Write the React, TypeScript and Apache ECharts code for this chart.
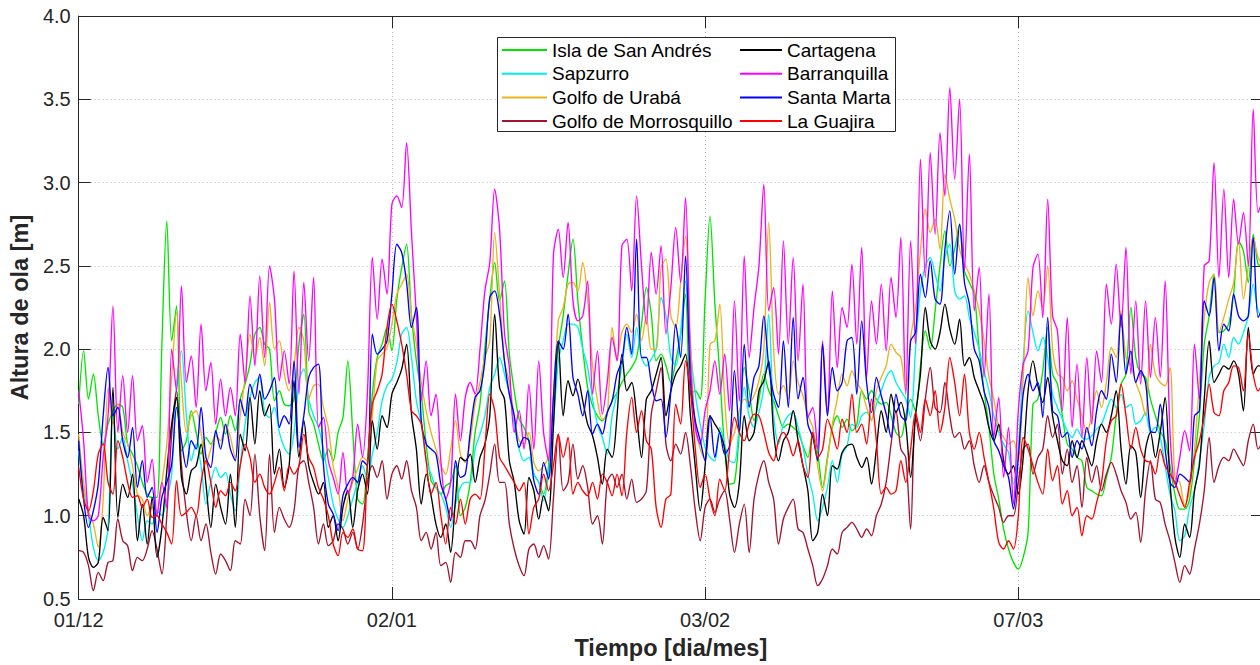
import React, { useEffect, useRef } from "react";
import * as echarts from "echarts";

// Significant wave height, one value every 12 hours starting 01/12 00:00
const STEP_DAYS = 0.5;

const xTickDays = [0, 32, 64, 96];
const xTickLabels = ["01/12", "02/01", "03/02", "07/03"];

const islaSanAndres = [
  1.67,1.99,1.7,1.85,1.6,1.43,1.55,1.63,1.67,1.65, 1.43,1.37,1.3,1.2,1.13,1.11,1.11,2.03,2.77,2.05,
  2.26,1.39,1.45,1.63,1.5,1.37,1.47,1.43,1.5,1.59, 1.49,1.6,1.51,1.7,1.79,1.91,2.09,2.13,2.03,2.0,
  1.69,1.75,1.67,1.66,1.7,2.03,2.21,1.63,1.55,1.43, 1.33,1.4,1.33,1.5,1.59,1.93,1.5,1.1,1.07,1.33,
  1.73,1.95,2.03,2.13,1.99,2.3,2.49,2.63,2.2,1.93, 1.73,1.43,1.21,1.17,1.13,1.18,1.2,1.3,1.0,1.05,
  1.2,1.5,1.67,2.01,2.3,2.52,2.29,2.41,1.97,1.75, 1.58,1.53,1.45,1.25,1.2,1.13,1.3,1.7,2.01,2.2,
  2.45,2.66,2.29,2.0,1.77,1.66,1.6,1.57,1.62,1.69, 1.74,1.8,1.85,1.89,1.95,2.15,2.37,2.21,
  1.93,1.97,1.9,1.8,1.93,2.09,2.33,1.73,1.75,1.7, 2.3,2.8,2.27,1.85,1.4,1.19,1.2,1.5,1.89,1.75,
  1.57,1.7,1.85,1.75,1.69,1.6,1.53,1.55,1.53,1.5, 1.42,1.35,1.5,1.38,1.17,1.35,1.53,1.6,1.53,1.58,
  1.51,1.55,1.75,1.7,1.75,1.7,1.67,1.68,1.6,1.5, 1.47,1.6,1.7,1.63,1.9,2.11,2.0,2.23,2.5,2.71,
  2.5,2.6,2.75,2.47,2.4,2.33,2.0,1.75,1.53,1.25, 1.1,0.92,0.8,0.72,0.68,0.75,0.9,1.67,1.7,1.87,
  2.13,1.85,1.79,1.6,1.43,1.4,1.35,1.33,1.17,1.15, 1.13,1.12,1.23,1.35,1.6,1.79,1.85,2.25,1.95,1.85,
  1.83,1.7,1.6,1.51,1.45,1.3,1.13,1.04,1.04,1.1, 1.33,1.6,2.03,2.2,2.45,2.1,2.11,2.15,2.33,2.65,
  2.59,2.4,2.69,2.51,2.5,
];

const sapzurro = [
  1.39,1.15,1.0,0.81,0.73,0.78,0.93,1.63,1.4,1.47, 1.33,1.19,1.0,0.85,0.97,0.95,1.03,1.0,1.1,1.25,
  1.79,1.99,1.6,1.33,1.43,1.3,1.07,1.2,1.29,1.23, 1.26,1.13,1.03,1.3,1.55,1.71,1.8,1.83,1.62,1.59,
  1.65,1.5,1.41,1.37,1.5,1.81,1.88,1.7,1.6,1.53, 1.4,1.23,1.07,0.98,0.93,1.0,1.1,1.2,1.3,1.22,
  1.37,1.5,1.69,1.78,1.82,1.92,2.09,2.13,1.95,1.69, 1.55,1.33,1.25,1.17,1.13,1.05,0.93,1.07,1.17,1.2,
  1.2,1.4,1.49,1.6,1.77,1.85,1.95,1.85,1.73,1.55, 1.4,1.33,1.35,1.25,1.2,1.09,1.25,1.55,1.93,2.05,
  2.15,2.15,2.13,2.0,1.89,1.7,1.55,1.47,1.37,1.6, 1.73,1.9,2.09,1.95,2.13,1.95,1.9,1.94,
  2.0,2.31,2.2,1.95,1.9,2.1,2.41,2.0,1.73,1.55, 1.41,1.35,1.33,1.53,1.43,1.33,1.32,1.55,1.77,1.6,
  1.53,1.62,1.77,2.21,1.6,1.43,1.55,1.6,1.62,1.53, 1.41,1.25,1.13,0.97,1.05,1.17,1.33,1.2,1.37,1.42,
  1.55,1.53,1.6,1.62,1.58,1.67,1.75,1.83,1.87,1.8, 1.75,1.7,1.59,2.0,2.35,2.5,2.55,2.45,2.35,2.55,
  2.63,2.35,2.3,2.32,2.19,2.1,2.0,1.87,1.75,1.6, 1.5,1.43,1.38,1.19,1.4,1.93,2.23,2.1,1.99,2.07,
  1.95,1.73,1.65,1.58,1.51,1.47,1.52,1.47,1.46,1.48, 1.52,1.55,1.63,1.7,1.65,1.73,1.65,1.67,1.55,1.57,
  1.62,1.5,1.53,1.47,1.3,1.13,1.03,0.85,0.88,1.05, 1.15,1.33,1.55,1.83,1.9,1.92,2.03,1.95,2.07,2.03,
  2.1,2.2,2.39,2.23,2.2,
];

const golfoUraba = [
  1.49,1.2,1.03,0.95,0.81,1.1,1.77,1.55,1.67,1.5, 1.43,1.3,1.13,1.1,1.0,1.05,1.03,1.2,1.43,1.83,
  2.22,1.8,1.5,1.6,1.63,1.5,1.31,1.4,1.48,1.45, 1.55,1.47,1.35,1.6,1.83,2.09,1.95,2.07,1.9,2.28,
  2.0,2.05,1.85,1.75,1.9,2.13,2.05,1.7,1.78,1.79, 1.65,1.53,1.3,1.17,0.97,1.1,1.2,1.28,1.35,1.33,
  1.6,1.93,1.97,2.01,2.15,2.33,2.39,2.45,2.2,2.03, 1.8,1.63,1.5,1.4,1.3,1.25,1.4,1.57,1.37,1.32,
  1.45,1.67,1.8,1.95,2.05,2.7,2.33,1.93,1.8,1.6, 1.45,1.43,1.5,1.32,1.27,1.3,1.35,1.7,2.17,2.25,
  2.39,2.4,2.35,2.52,2.3,1.9,1.69,1.58,1.6,2.13, 1.95,2.1,2.15,2.1,2.21,2.05,2.2,2.0,
  2.0,2.49,2.54,2.2,2.13,2.4,2.68,2.05,1.53,1.4, 1.33,2.03,2.05,2.27,1.7,1.43,1.5,1.63,1.7,1.68,
  1.72,1.81,2.0,2.76,2.0,1.73,1.78,1.7,1.93,1.8, 1.72,1.6,1.53,1.3,1.15,1.33,1.55,1.7,1.85,1.78,
  1.87,1.8,1.75,1.65,1.57,1.75,1.83,1.9,2.03,1.98, 1.95,1.75,2.07,2.25,2.59,2.84,2.7,2.78,2.6,3.05,
  2.9,2.78,2.6,2.51,2.45,2.35,2.23,2.05,1.83,1.7, 1.53,1.47,1.43,1.45,1.33,1.83,2.43,2.2,2.35,2.25,
  2.5,2.0,1.85,1.83,1.75,1.81,1.7,1.6,1.5,1.6, 1.75,1.65,1.8,2.01,1.95,2.23,1.95,1.9,1.8,1.72,
  1.6,2.03,1.85,1.8,1.78,1.89,1.23,1.2,1.06,1.15, 1.4,1.8,2.19,2.4,2.45,2.1,2.19,2.3,2.4,2.65,
  2.3,2.5,2.67,2.55,2.5,
];

const golfoMorrosquillo = [
  0.79,0.78,0.7,0.55,0.66,0.61,0.72,0.73,0.98,0.85, 0.82,0.67,0.75,0.73,0.8,0.91,0.8,0.65,1.0,1.49,
  1.75,1.3,1.02,0.85,1.0,0.85,0.95,0.78,0.65,0.77, 0.73,0.67,0.85,0.83,1.1,1.0,1.37,1.0,0.79,1.37,
  0.9,1.05,0.98,0.93,1.03,1.3,1.33,1.2,1.05,0.83, 0.95,0.82,0.85,0.95,0.92,0.83,0.9,0.8,0.95,1.2,
  1.3,1.23,1.33,1.1,1.25,1.3,1.22,1.33,1.15,1.05, 0.85,0.9,0.8,0.9,0.7,0.72,0.6,0.78,0.75,0.85,
  0.85,0.8,1.0,1.09,1.25,1.43,1.2,1.2,0.95,0.8, 0.7,0.64,0.8,0.83,0.75,0.82,0.74,1.1,1.49,1.15,
  1.2,1.43,1.22,1.3,1.17,0.95,1.0,0.83,1.2,1.25, 1.17,1.25,1.1,1.22,1.08,1.1,1.15,1.61,
  1.75,1.89,1.43,1.33,1.43,1.37,1.5,1.3,1.03,0.85, 1.05,1.1,1.02,1.1,1.15,0.98,0.78,0.95,1.07,0.78,
  1.1,1.25,1.33,1.2,1.1,0.83,0.98,1.05,1.1,0.92, 0.9,0.8,0.7,0.58,0.62,0.7,0.8,0.77,0.9,0.93,
  0.96,0.92,0.87,0.92,0.88,1.0,1.07,1.2,1.43,1.63, 1.4,1.35,0.92,1.6,1.45,1.7,1.89,1.65,1.62,1.8,
  1.6,1.47,1.5,1.4,1.45,1.3,1.2,1.3,1.2,1.12, 1.05,0.96,1.0,1.0,1.2,1.4,1.43,1.25,1.35,1.4,
  1.6,1.47,1.55,1.25,1.4,1.2,1.3,1.05,1.35,1.2, 1.3,1.15,1.25,1.32,1.25,1.15,1.08,0.98,1.02,0.84,
  1.15,1.33,1.1,1.08,0.95,0.85,0.72,0.6,0.7,0.65, 0.8,0.95,1.15,1.47,1.2,1.3,1.35,1.33,1.4,1.35,
  1.3,1.45,1.55,1.4,1.45,
];

const cartagena = [
  1.1,1.0,0.75,0.69,0.72,0.99,0.91,1.77,0.99,1.19, 1.11,1.25,0.85,1.07,0.83,1.11,0.75,0.93,1.27,1.55,
  1.71,1.23,1.13,1.27,1.3,1.43,1.19,0.93,1.19,1.05, 0.95,1.25,0.93,1.49,1.39,1.71,1.43,1.75,1.6,1.67,
  1.25,1.4,1.17,1.3,1.81,1.35,1.57,1.3,1.2,1.13, 1.2,0.93,1.0,0.85,1.05,1.15,0.93,1.15,1.25,1.13,
  1.57,1.4,1.6,1.53,1.73,1.8,1.88,2.03,1.61,1.4, 1.07,1.25,1.12,0.95,0.87,0.95,0.78,1.1,1.35,1.33,
  1.37,1.2,1.35,1.43,1.6,2.21,1.77,1.7,1.33,1.2, 0.97,0.89,1.23,1.15,0.98,1.12,1.03,1.53,2.05,1.6,
  1.81,1.72,1.82,1.69,1.55,1.48,1.35,1.19,1.4,1.35, 1.6,1.97,1.75,1.8,1.6,1.35,1.7,1.75,
  1.85,1.95,1.6,1.75,1.85,1.9,1.97,1.6,1.29,1.03, 1.3,1.6,1.55,1.5,1.4,1.13,1.05,1.2,1.6,1.45,
  1.5,1.75,1.81,1.93,1.5,1.33,1.45,1.5,1.63,1.45, 1.3,1.15,0.85,0.9,1.13,1.0,1.3,1.28,1.38,1.42,
  1.43,1.35,1.29,1.35,1.19,1.4,1.63,1.5,1.73,1.62, 1.68,1.55,1.23,1.6,1.85,2.25,2.05,2.0,2.1,2.27,
  2.12,2.03,2.18,1.9,1.95,1.83,1.75,1.67,1.53,1.45, 1.55,1.33,1.25,1.3,1.13,1.35,1.75,1.93,1.78,1.68,
  1.83,1.6,1.45,1.33,1.3,1.45,1.35,1.45,1.38,1.3, 1.45,1.55,1.5,1.6,1.75,1.4,1.19,1.42,1.38,1.11,
  1.4,1.5,1.35,1.5,1.71,1.2,0.87,0.75,0.95,0.87, 1.15,1.3,1.7,2.05,1.8,1.85,1.9,1.88,1.93,1.85,
  1.63,2.13,1.85,1.9,1.9,
];

const barranquilla = [
  1.75,1.45,1.0,0.97,1.0,1.35,1.6,2.26,1.5,1.84, 1.5,1.84,1.45,1.54,1.2,1.34,1.0,1.2,1.05,2.0,
  1.75,2.38,1.8,1.96,1.65,2.15,1.75,1.92,1.55,1.82, 1.6,1.77,1.6,2.09,1.8,2.32,1.9,2.44,1.95,2.5,
  2.3,1.81,1.99,1.79,2.47,1.73,2.4,1.93,2.43,1.53, 1.59,1.33,1.23,1.13,1.38,1.13,1.23,1.55,1.35,1.74,
  2.55,2.18,2.54,2.33,2.87,2.92,2.85,3.24,2.7,2.2, 1.69,1.93,1.6,1.73,1.33,1.1,1.2,1.73,1.45,1.71,
  1.8,1.73,2.0,2.35,2.52,2.96,2.72,2.1,1.89,1.5, 1.63,1.4,1.79,1.4,1.93,1.5,1.33,2.56,2.72,2.43,
  2.76,2.29,2.17,2.2,2.41,1.73,1.99,1.61,1.8,2.07, 1.93,2.62,2.66,2.35,2.92,2.5,2.15,2.58,
  2.33,2.62,2.09,2.37,2.73,2.4,2.91,1.93,1.53,1.43, 1.63,1.75,1.93,1.73,1.97,1.63,2.29,1.69,2.56,1.95,
  2.25,2.5,2.99,2.23,2.37,1.97,2.65,2.03,2.55,1.93, 2.39,1.59,1.65,1.4,2.05,1.61,2.35,1.89,2.25,2.13,
  2.51,2.03,2.61,1.83,2.29,2.03,2.39,1.99,2.43,2.19, 2.67,1.73,2.65,2.03,3.14,2.43,3.18,2.69,3.3,2.92,
  3.57,3.02,3.5,2.47,3.17,2.23,2.49,1.83,2.33,1.47, 1.71,1.23,1.53,1.07,1.63,1.91,1.99,2.49,2.57,2.19,
  2.9,2.2,2.11,1.63,2.19,1.53,1.91,1.47,1.95,1.55, 1.99,1.8,2.39,2.15,2.51,2.13,2.61,1.85,2.29,1.79,
  2.29,1.83,2.19,1.83,2.41,1.5,1.19,1.35,1.51,1.39, 2.03,1.7,2.5,2.53,3.12,2.43,2.96,2.43,2.9,2.63,
  2.82,2.5,3.44,2.82,2.9,
];

const santaMarta = [
  1.45,1.1,0.93,1.03,1.19,1.6,1.89,1.6,1.65,1.45, 1.35,1.53,1.17,1.33,1.11,1.17,0.9,1.11,1.2,1.31,
  1.65,1.45,1.29,1.45,1.4,1.65,1.35,1.29,1.51,1.4, 1.55,1.4,1.33,1.7,1.6,1.79,1.7,1.85,1.7,1.75,
  1.83,1.53,1.6,1.55,1.93,1.41,1.6,1.83,1.89,1.91, 1.31,1.07,1.01,0.91,1.12,1.19,1.23,1.2,1.33,1.3,
  2.09,1.97,2.0,2.05,2.33,2.63,2.58,2.4,2.13,2.25, 1.57,1.43,1.4,1.37,1.19,1.1,0.97,1.33,1.23,1.25,
  1.5,1.71,1.75,1.93,2.31,2.35,2.21,1.93,1.73,1.6, 1.41,1.47,1.45,1.21,1.13,1.32,1.22,1.71,2.05,2.0,
  2.21,1.83,1.73,1.6,1.75,1.49,1.55,1.49,1.62,1.69, 1.85,1.93,2.13,1.97,2.66,1.95,1.95,1.8,
  1.69,1.7,1.47,1.75,2.15,1.95,2.56,1.8,1.57,1.45, 1.33,1.6,1.35,1.5,1.37,1.42,1.87,1.5,2.03,1.65,
  1.83,1.9,2.2,1.9,1.73,1.65,2.05,1.65,2.19,1.7, 1.83,1.55,1.47,1.33,2.03,1.6,1.89,1.75,1.8,2.05,
  2.07,1.73,2.17,1.8,1.62,1.83,1.72,1.61,1.47,1.73, 1.6,1.57,2.05,2.1,2.45,2.31,2.53,2.3,2.27,2.6,
  2.83,2.45,2.75,2.4,2.27,2.0,1.93,1.75,1.65,1.45, 1.39,1.3,1.23,1.04,1.35,1.73,1.85,1.75,1.8,1.59,
  2.19,1.63,1.6,1.47,1.5,1.35,1.45,1.4,1.53,1.42, 1.63,1.75,1.7,1.97,1.8,2.21,1.85,1.99,1.8,1.87,
  1.8,1.51,1.5,1.67,1.4,1.2,1.17,1.25,1.23,1.2, 1.6,1.63,2.29,2.2,2.43,1.99,2.15,2.11,2.33,2.2,
  2.17,2.2,2.67,2.19,2.25,
];

const laGuajira = [
  1.29,1.1,1.03,1.15,1.37,1.43,1.2,1.13,1.45,1.35, 1.2,1.11,1.12,1.05,1.1,0.99,1.0,0.95,0.9,0.83,
  1.21,1.0,1.02,1.05,1.0,1.2,1.33,1.2,1.05,1.15, 1.12,1.2,1.15,1.3,1.43,1.35,1.2,1.25,1.17,1.13,
  1.2,1.29,1.15,1.3,1.25,1.3,1.49,1.35,1.29,1.17, 1.1,1.0,0.83,0.76,0.9,0.87,0.92,0.8,0.79,1.3,
  1.67,1.75,1.85,2.13,2.27,2.17,2.03,1.85,1.63,1.6, 1.55,1.33,1.13,1.2,1.0,0.83,1.05,0.95,1.1,0.95,
  1.1,1.13,1.1,1.4,1.73,1.63,1.35,1.3,1.25,1.2, 1.15,1.2,0.89,1.05,1.1,1.25,1.15,1.3,1.49,1.35,
  1.47,1.13,1.2,1.15,1.12,1.2,1.1,1.25,1.2,1.12, 1.25,1.12,1.5,1.71,1.5,1.63,1.45,1.4,
  1.05,0.93,1.1,1.13,1.67,1.55,1.93,1.75,1.4,1.17, 1.25,1.1,1.0,1.22,1.15,1.4,1.59,1.5,1.45,1.55,
  1.61,1.6,1.5,1.38,1.33,1.45,1.5,1.45,1.36,1.45, 1.3,1.23,1.5,1.35,1.4,1.58,1.5,1.4,1.58,1.5,
  1.73,1.5,1.55,1.43,1.7,1.45,1.13,1.17,1.13,1.15, 1.33,1.2,1.4,1.62,1.5,1.7,1.6,1.75,1.5,1.65,
  1.95,1.8,1.6,1.85,1.5,1.4,1.5,1.35,1.2,1.04, 0.84,0.8,0.85,0.8,1.0,1.47,1.4,1.3,1.2,1.13,
  1.4,1.21,1.3,1.07,1.15,1.0,1.05,0.88,1.0,0.98, 1.08,1.2,1.45,1.57,1.6,1.79,1.6,1.4,1.53,1.4,
  1.33,1.32,1.25,1.4,1.3,1.25,1.2,1.12,1.05,1.2, 1.35,1.45,1.6,1.79,1.62,1.6,1.75,1.8,1.9,1.89,
  1.75,2.09,1.85,1.75,1.8,
];

const stationNames = [
  "Isla de San Andrés",
  "Sapzurro",
  "Golfo de Urabá",
  "Golfo de Morrosquillo",
  "Cartagena",
  "Barranquilla",
  "Santa Marta",
  "La Guajira",
];
const stationColors = [
  "#00e600",
  "#00f0f0",
  "#edb120",
  "#a2142f",
  "#000000",
  "#ff00ff",
  "#0000ff",
  "#ff0000",
];
const stationValues = [
  islaSanAndres,
  sapzurro,
  golfoUraba,
  golfoMorrosquillo,
  cartagena,
  barranquilla,
  santaMarta,
  laGuajira,
];

const FONT = '"Liberation Sans", Arial, Helvetica, sans-serif';
const AXIS_COLOR = "#262626";
const DAYS_SHOWN = 121;

export default function App() {
  const ref = useRef<HTMLDivElement>(null);

  useEffect(() => {
    if (!ref.current) return;
    const chart = echarts.init(ref.current, undefined, { renderer: "svg" });

    const series = stationNames.map((name, k) => ({
      name,
      type: "line",
      data: stationValues[k].map((v, i) => [i * STEP_DAYS, v]),
      showSymbol: false,
      symbol: "none",
      smooth: 0.3,
      color: stationColors[k],
      lineStyle: { width: 1.35, color: stationColors[k] },
      emphasis: { disabled: true },
      silent: true,
      z: 2,
    }));

    const legendBase = {
      orient: "vertical",
      top: 40,
      itemHeight: 2,
      itemGap: 3.7,
      icon: "rect",
      selectedMode: false,
      padding: 0,
      z: 5,
      textStyle: { fontSize: 19, color: "#000", fontFamily: FONT, lineHeight: 20 },
    };

    const gridLine = { show: true, lineStyle: { color: "#bdbdbd", type: [1, 3], width: 1 } };
    const axisLine = { show: true, onZero: false, lineStyle: { color: AXIS_COLOR, width: 1 } };
    const tickIn = { show: true, inside: true, length: 12, lineStyle: { color: AXIS_COLOR, width: 1 } };

    chart.setOption({
      animation: false,
      backgroundColor: "#ffffff",
      textStyle: { fontFamily: FONT },
      grid: { left: 76, top: 16, right: 7, bottom: 61, containLabel: false },
      xAxis: [
        {
          type: "value",
          position: "bottom",
          min: 0,
          max: DAYS_SHOWN,
          interval: 32,
          axisLine,
          axisTick: tickIn,
          splitLine: gridLine,
          axisLabel: {
            fontSize: 20,
            color: AXIS_COLOR,
            fontFamily: FONT,
            margin: 11,
            formatter: (v: number) => {
              const idx = xTickDays.indexOf(v);
              return idx >= 0 ? xTickLabels[idx] : "";
            },
          },
          name: "Tiempo [dia/mes]",
          nameLocation: "middle",
          nameGap: 37,
          nameTextStyle: { fontSize: 23.5, fontWeight: "bold", color: AXIS_COLOR, fontFamily: FONT },
        },
        {
          type: "value",
          position: "top",
          min: 0,
          max: DAYS_SHOWN,
          interval: 32,
          axisLine,
          axisTick: tickIn,
          splitLine: { show: false },
          axisLabel: { show: false },
        },
      ],
      yAxis: [
        {
          type: "value",
          position: "left",
          min: 0.5,
          max: 4,
          interval: 0.5,
          axisLine,
          axisTick: tickIn,
          splitLine: gridLine,
          axisLabel: {
            fontSize: 20,
            color: AXIS_COLOR,
            fontFamily: FONT,
            margin: 8,
            formatter: (v: number) => v.toFixed(1),
          },
          name: "Altura de ola [m]",
          nameLocation: "middle",
          nameGap: 40,
          nameRotate: 90,
          nameTextStyle: { fontSize: 23.5, fontWeight: "bold", color: AXIS_COLOR, fontFamily: FONT },
        },
        {
          type: "value",
          position: "right",
          min: 0.5,
          max: 4,
          interval: 0.5,
          axisLine,
          axisTick: tickIn,
          splitLine: { show: false },
          axisLabel: { show: false },
        },
      ],
      legend: [
        { ...legendBase, left: 502, itemWidth: 45, data: stationNames.slice(0, 4) },
        { ...legendBase, left: 740, itemWidth: 42, data: stationNames.slice(4) },
      ],
      graphic: [
        {
          type: "rect",
          z: 4,
          shape: { x: 497.5, y: 37.5, width: 398, height: 94 },
          style: { fill: "#ffffff", stroke: AXIS_COLOR, lineWidth: 1 },
          silent: true,
        },
      ],
      series,
    });

    return () => chart.dispose();
  }, []);

  return (
    <div
      ref={ref}
      style={{ position: "fixed", left: 0, top: 0, width: 1270, height: 665, background: "#fff" }}
    />
  );
}
